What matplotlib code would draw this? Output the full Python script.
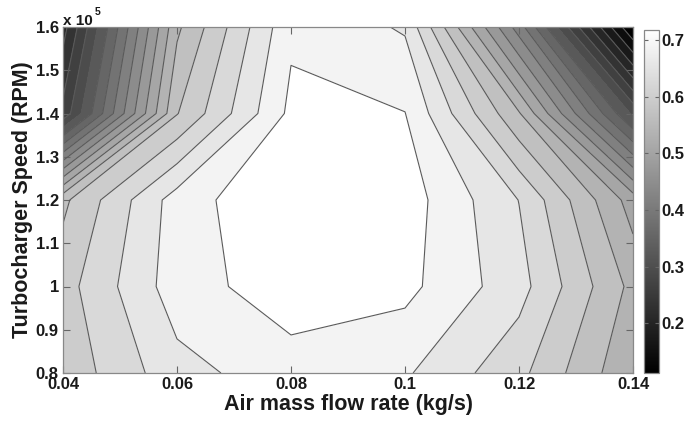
import numpy as np
import matplotlib
matplotlib.use('Agg')
import matplotlib.pyplot as plt
from matplotlib.colors import Normalize
from matplotlib.cm import ScalarMappable

plt.rcParams['font.family'] = ['Liberation Sans', 'DejaVu Sans']
plt.rcParams['font.weight'] = 'bold'

# ---- data ----
air_flow = [0.04, 0.06, 0.08, 0.10, 0.12, 0.14]            # kg/s
turbo_speed = [80000, 100000, 120000, 140000, 160000]       # RPM
efficiency = [
    [0.5826, 0.6497, 0.6760, 0.6636, 0.6105, 0.5197],   # 0.8e5
    [0.5903, 0.6754, 0.7048, 0.6970, 0.6422, 0.5361],   # 1.0e5
    [0.5670, 0.6737, 0.7175, 0.7034, 0.6304, 0.5024],   # 1.2e5
    [0.2648, 0.5719, 0.6959, 0.6893, 0.5474, 0.3081],   # 1.4e5
    [0.2158, 0.5387, 0.6829, 0.6564, 0.4148, 0.1120],   # 1.6e5
]
n_levels = 20

x_ticks = [0.04, 0.06, 0.08, 0.10, 0.12, 0.14]
x_tick_labels = ['0.04', '0.06', '0.08', '0.1', '0.12', '0.14']
y_ticks = [80000, 90000, 100000, 110000, 120000, 130000, 140000, 150000, 160000]
y_tick_labels = ['0.8', '0.9', '1', '1.1', '1.2', '1.3', '1.4', '1.5', '1.6']
cbar_ticks = [0.2, 0.3, 0.4, 0.5, 0.6, 0.7]
cbar_tick_labels = ['0.2', '0.3', '0.4', '0.5', '0.6', '0.7']

# ---- figure ----
X, Y = np.meshgrid(air_flow, turbo_speed)
Z = np.array(efficiency)
zmin, zmax = Z.min(), Z.max()
levels = np.linspace(zmin, zmax, n_levels + 2)
dz = levels[1] - levels[0]

fig = plt.figure(figsize=(6.85, 4.25), dpi=100)
ax = fig.add_axes([63/685, 1 - 373/425, 570/685, 346/425])

band_norm = Normalize(vmin=zmin + dz/2, vmax=zmax - dz/2)
ax.contourf(X, Y, Z, levels=levels, cmap='gray', norm=band_norm)
ax.contour(X, Y, Z, levels=levels[1:-1], colors='#5a5a5a', linewidths=0.8)

ax.set_xlim(air_flow[0], air_flow[-1])
ax.set_ylim(turbo_speed[0], turbo_speed[-1])
ax.set_xticks(x_ticks)
ax.set_xticklabels(x_tick_labels)
ax.set_yticks(y_ticks)
ax.set_yticklabels(y_tick_labels)
ax.tick_params(direction='in', top=True, right=True, length=5, width=0.8,
               color='#666666', labelsize=12, pad=3, labelcolor='#1a1a1a')
for s in ax.spines.values():
    s.set_color('#888888')
    s.set_linewidth(0.9)

ax.set_xlabel('Air mass flow rate (kg/s)', fontsize=15.5, fontweight='bold',
              labelpad=1, color='#1a1a1a')
ax.set_ylabel('Turbocharger Speed (RPM)', fontsize=15.5, fontweight='bold',
              labelpad=2, color='#1a1a1a')

fig.text(63/685, 1 - 25/425, 'x 10', fontsize=11, fontweight='bold',
         ha='left', va='baseline', color='#1a1a1a')
fig.text(95/685, 1 - 15/425, '5', fontsize=7.5, fontweight='bold',
         ha='left', va='baseline', color='#1a1a1a')

# ---- colorbar ----
cax = fig.add_axes([644/685, 1 - 373/425, 15/685, 343/425])
sm = ScalarMappable(norm=Normalize(zmin, zmax), cmap='gray')
cb = fig.colorbar(sm, cax=cax, ticks=cbar_ticks)
cb.set_ticklabels(cbar_tick_labels)
cb.outline.set_edgecolor('#888888')
cb.outline.set_linewidth(0.9)
cax.tick_params(direction='in', left=True, right=True, length=3, width=0.8,
                color='#666666', labelsize=12, pad=2, labelcolor='#1a1a1a')

fig.savefig('out.png', dpi=100)
